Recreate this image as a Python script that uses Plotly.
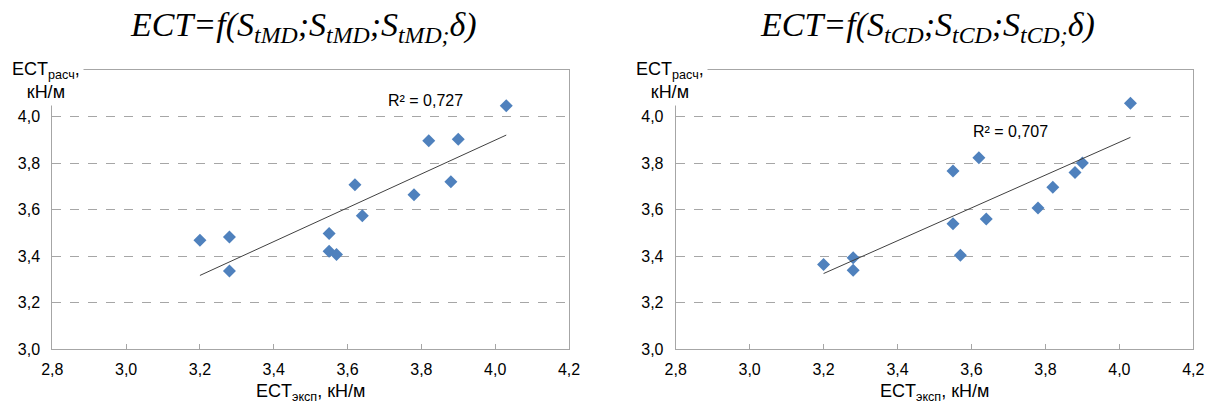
import numpy as np
import plotly.graph_objects as go

# ---- data ----
ect_exp = [3.20, 3.28, 3.28, 3.55, 3.55, 3.57, 3.62, 3.64, 3.78, 3.82, 3.88, 3.90, 4.03]
ect_calc_md = [3.468, 3.483, 3.336, 3.497, 3.421, 3.407, 3.707, 3.574, 3.664, 3.896, 3.720, 3.903, 4.046]
ect_calc_cd = [3.364, 3.393, 3.340, 3.766, 3.539, 3.404, 3.823, 3.560, 3.607, 3.696, 3.760, 3.800, 4.057]
r2_labels = ["R² = 0,727", "R² = 0,707"]
r2_pos = [(3.81, 4.07), (3.705, 3.935)]
titles = ["<i>ECT=f(S<sub>tMD</sub>;S<sub>tMD</sub>;S<sub>tMD;</sub>δ)</i>",
          "<i>ECT=f(S<sub>tCD</sub>;S<sub>tCD</sub>;S<sub>tCD;</sub>δ)</i>"]
x_ticks = [2.8, 3.0, 3.2, 3.4, 3.6, 3.8, 4.0, 4.2]
y_ticks = [3.0, 3.2, 3.4, 3.6, 3.8, 4.0]

W, H = 1212, 405
# plot areas in pixels (left, right)
areas = [(52.3, 569.0), (675.7, 1193.3)]
y_top, y_bot = 70.0, 349.3

BLUE = "#4F81BD"
AX = "#A6A6A6"
SANS = "Liberation Sans, Arial, sans-serif"
SERIF = "Liberation Serif, Times New Roman, serif"

fig = go.Figure()
series = [ect_calc_md, ect_calc_cd]
annotations = []
for i, ys in enumerate(series):
    xa = "x" if i == 0 else "x2"
    ya = "y" if i == 0 else "y2"
    fig.add_trace(go.Scatter(x=ect_exp, y=ys, mode="markers", xaxis=xa, yaxis=ya,
                             marker=dict(symbol="diamond", size=10, color=BLUE),
                             showlegend=False, hoverinfo="skip"))
    k, b = np.polyfit(ect_exp, ys, 1)
    xs = [min(ect_exp), max(ect_exp)]
    fig.add_trace(go.Scatter(x=xs, y=[k * v + b for v in xs], mode="lines", xaxis=xa, yaxis=ya,
                             line=dict(color="#404040", width=1),
                             showlegend=False, hoverinfo="skip"))
    l, r = areas[i]
    axsuf = "" if i == 0 else "2"
    annotations.append(dict(text=r2_labels[i], x=r2_pos[i][0], y=r2_pos[i][1],
                            xref="x" + axsuf, yref="y" + axsuf, showarrow=False,
                            font=dict(family=SANS, size=16, color="#000")))
    # chart title
    annotations.append(dict(text=titles[i], x=(l + r) / 2 / W - 0.006, y=1 - 27 / H,
                            xref="paper", yref="paper", xanchor="center", yanchor="middle",
                            showarrow=False, font=dict(family=SERIF, size=34, color="#000")))
    # y-axis title (covers frame corner)
    annotations.append(dict(text="ECT<sub>расч</sub>,<br>кН/м", x=(l - 6) / W, y=1 - 81 / H,
                            xref="paper", yref="paper", xanchor="center", yanchor="middle",
                            showarrow=False, bgcolor="white", borderpad=3, align="center",
                            font=dict(family=SANS, size=18, color="#000")))
    # x-axis title
    annotations.append(dict(text="ECT<sub>эксп</sub>, кН/м", x=(l + r) / 2 / W, y=1 - 392 / H,
                            xref="paper", yref="paper", xanchor="center", yanchor="middle",
                            showarrow=False, font=dict(family=SANS, size=18, color="#000")))

common_x = dict(range=[2.8, 4.2], tickvals=x_ticks, tickformat=".1f", showgrid=False,
                showline=True, linecolor=AX, linewidth=1, mirror=True, zeroline=False,
                ticks="inside", ticklen=5, tickcolor=AX, tickfont=dict(family=SANS, size=16, color="#000"),
                automargin=False, ticklabelstandoff=5, fixedrange=True)
common_y = dict(range=[3.0, 4.2], tickvals=y_ticks, tickformat=".1f", showgrid=True,
                gridcolor=AX, griddash="dash", gridwidth=1,
                showline=True, linecolor=AX, linewidth=1, mirror=True, zeroline=False,
                ticks="", tickfont=dict(family=SANS, size=16, color="#000"),
                automargin=False, ticklabelstandoff=8, fixedrange=True)

fig.update_layout(
    width=W, height=H, margin=dict(l=0, r=0, t=0, b=0),
    paper_bgcolor="white", plot_bgcolor="white", separators=", ",
    xaxis=dict(domain=[areas[0][0] / W, areas[0][1] / W], anchor="y", **common_x),
    yaxis=dict(domain=[1 - y_bot / H, 1 - y_top / H], anchor="x", **common_y),
    xaxis2=dict(domain=[areas[1][0] / W, areas[1][1] / W], anchor="y2", **common_x),
    yaxis2=dict(domain=[1 - y_bot / H, 1 - y_top / H], anchor="x2", **common_y),
    annotations=annotations,
)

fig.write_html("out.html", config={"displayModeBar": False},
               post_script="document.body.style.margin='0';document.body.style.overflow='hidden';")
